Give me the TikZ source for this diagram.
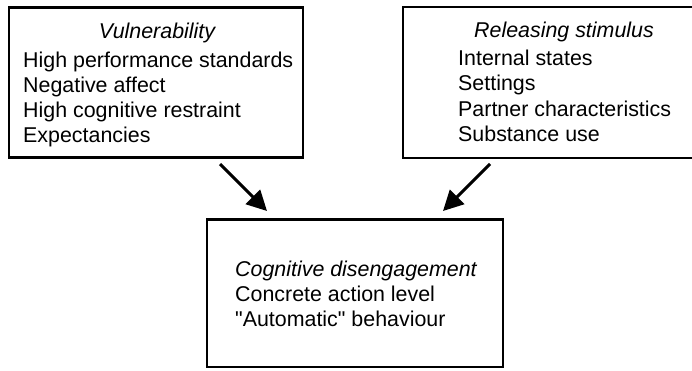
\documentclass[tikz,border=0pt]{standalone}
\usepackage{fontspec}
\setmainfont{Liberation Sans}[Ligatures=TeXOff]
\usetikzlibrary{arrows.meta}
\begin{document}
\begin{tikzpicture}[x=1bp,y=-1bp,
  box/.style={draw, line width=2.6bp, inner sep=0pt},
  txt/.style={inner sep=0pt, anchor=base west, font=\fontsize{21.4bp}{25bp}\selectfont},
  head/.style={inner sep=0pt, anchor=base, font=\fontsize{21.4bp}{25bp}\selectfont\itshape},
  conn/.style={line width=3bp, -{Triangle[length=20bp,width=20bp]}}]
\useasboundingbox (0,0) rectangle (692,370);
\clip (0,0) rectangle (692,370);
% boxes
\node[box, minimum width=294bp, minimum height=149.5bp] (vul) at (156,82.5) {};
\node[box, minimum width=322bp, minimum height=151bp] (rel) at (564,82.5) {};
\node[box, minimum width=296bp, minimum height=147.5bp] (cog) at (355,293.25) {};
% left box text
\node[head] (vh) at (157,38) {Vulnerability};
\node[txt] (v1) at (23,67) {High performance standards};
\node[txt] (v2) at (23,92) {Negative affect};
\node[txt] (v3) at (23,117) {High cognitive restraint};
\node[txt] (v4) at (23,142) {Expectancies};
% right box text
\node[head] (rh) at (564,37) {Releasing stimulus};
\node[txt] (r1) at (458,65.5) {Internal states};
\node[txt] (r2) at (458,90.5) {Settings};
\node[txt] (r3) at (458,116.5) {Partner characteristics};
\node[txt] (r4) at (458,141.5) {Substance use};
% bottom box text
\node[txt, font=\fontsize{21.4bp}{25bp}\selectfont\itshape] (ch) at (235,276) {Cognitive disengagement};
\node[txt] (c1) at (235,301.5) {Concrete action level};
\node[txt] (c2) at (235,326.5) {"Automatic" behaviour};
% connectors
\coordinate (a1s) at (220,164);
\coordinate (a1e) at (267,211);
\coordinate (a2s) at (490,164);
\coordinate (a2e) at (443,211);
\draw[conn] (a1s) -- (a1e);
\draw[conn] (a2s) -- (a2e);
\end{tikzpicture}
\end{document}
